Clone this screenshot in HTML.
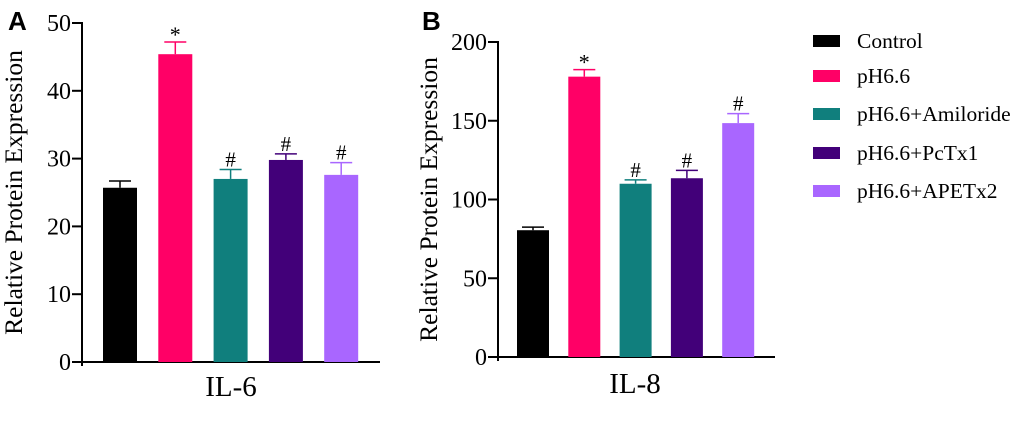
<!DOCTYPE html>
<html><head><meta charset="utf-8"><style>
body{margin:0;background:#fff}
svg{display:block;font-family:"Liberation Serif",serif}
</style></head><body>
<svg id="c" width="1020" height="427">
<text x="8" y="30" font-family="Liberation Sans,sans-serif" font-weight="bold" font-size="26">A</text>
<text x="422" y="30" font-family="Liberation Sans,sans-serif" font-weight="bold" font-size="26">B</text>
</svg>
<script>
const groups = ["Control","pH6.6","pH6.6+Amiloride","pH6.6+PcTx1","pH6.6+APETx2"];
const colors = ["#000000","#FF0066","#107F7D","#420079","#A966FF"];
const il6Values = [25.7,45.4,27.0,29.8,27.6];
const il6Errors = [1.0,1.8,1.4,0.9,1.8];
const il6Ticks = [0,10,20,30,40,50];
const il6Marks = ["","*","#","#","#"];
const il8Values = [80.5,178,110,113.5,148.5];
const il8Errors = [2,4.5,2.5,5,6];
const il8Ticks = [0,50,100,150,200];
const il8Marks = ["","*","#","#","#"];
const svg = document.getElementById('c');
const NS = "http://www.w3.org/2000/svg";
function mk(tag, attrs, txt){const e=document.createElementNS(NS,tag);for(const k in attrs)e.setAttribute(k,attrs[k]);if(txt!==undefined)e.textContent=txt;svg.appendChild(e);return e;}
function panel(p){
  const y=v=>p.y0-(v/p.max)*(p.y0-p.yTop);
  const ax=mk('line',{x1:p.ax,y1:p.yTop-1,x2:p.ax,y2:p.y0+4,stroke:'#000','stroke-width':2});
  
  
  const bx=mk('line',{x1:p.ax,y1:p.y0,x2:p.axEnd,y2:p.y0,stroke:'#000','stroke-width':2});
  
  
  p.ticks.forEach(t=>{
    const l=mk('line',{x1:p.ax-10,y1:y(t),x2:p.ax,y2:y(t),stroke:'#000','stroke-width':2});
    
    
    const tx=mk('text',{x:p.ax-11,y:y(t)+8,'text-anchor':'end','font-size':24},String(t));
    
    
  });
  p.values.forEach((v,i)=>{
    const x=p.x0+i*p.step;
    const r=mk('rect',{x:x,y:y(v),width:p.bw,height:p.y0-y(v),fill:colors[i]});
    
    
    const cx=x+p.bw/2, top=y(v+p.errors[i]);
    const e1=mk('line',{x1:cx,y1:y(v),x2:cx,y2:top,stroke:colors[i],'stroke-width':1.5});
    
    
    const e2=mk('line',{x1:cx-11,y1:top,x2:cx+11,y2:top,stroke:colors[i],'stroke-width':1.5});
    
    
    if(p.marks[i]){
      const m=mk('text',{x:cx,y:top-(p.marks[i]=='*'?0:3),'text-anchor':'middle','font-size':p.marks[i]=='*'?22:21},p.marks[i]);
      
      
    }
  });
  const yt=mk('text',{transform:`translate(${p.titleX},${(p.y0+p.yTop)/2}) rotate(-90)`,'text-anchor':'middle','font-size':25.5},'Relative Protein Expression');
  
  
  const xt=mk('text',{x:p.labelX,y:p.labelY,'text-anchor':'middle','font-size':29},p.label);
  
  
}
panel({id:'il6',ax:82,axEnd:380,y0:362,yTop:23,max:50,ticks:il6Ticks,values:il6Values,errors:il6Errors,marks:il6Marks,x0:103,step:55.3,bw:34,titleX:22,label:'IL-6',labelX:231,labelY:396});
panel({id:'il8',ax:498,axEnd:775,y0:357,yTop:42,max:200,ticks:il8Ticks,values:il8Values,errors:il8Errors,marks:il8Marks,x0:517,step:51.3,bw:32,titleX:437,label:'IL-8',labelX:635,labelY:393});
const ly=[41,76,114,153,191];
groups.forEach((g,i)=>{
  const s=mk('rect',{x:813,y:ly[i]-6,width:27,height:12,fill:colors[i]});
  
  
  const t=mk('text',{x:857,y:ly[i]+7,'font-size':21.5},g);
  
  
});
</script>
</body></html>
